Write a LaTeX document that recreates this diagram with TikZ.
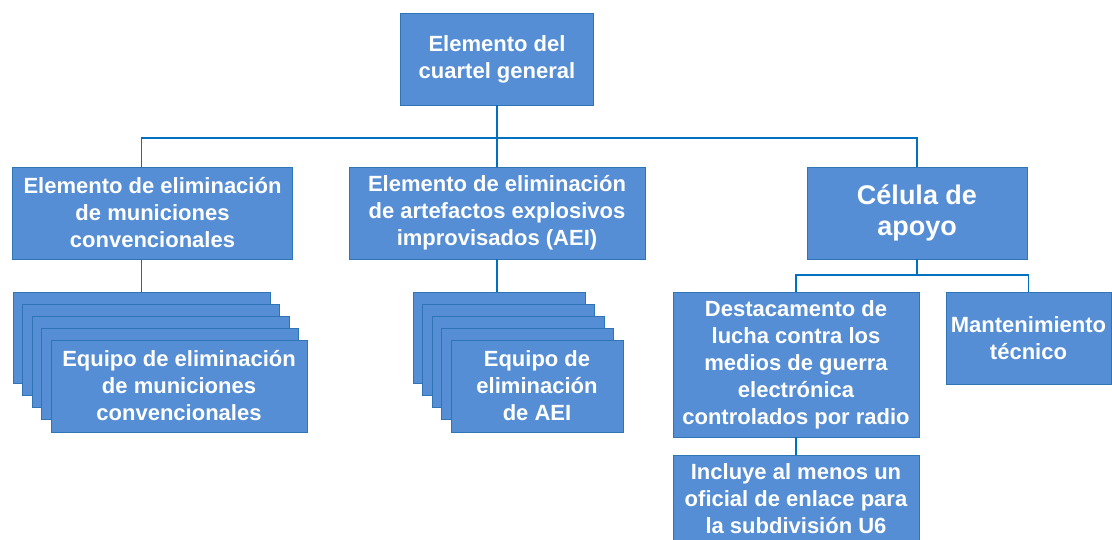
\documentclass[tikz,border=0pt]{standalone}
\usepackage{fontspec}
\setmainfont{Liberation Sans}
\definecolor{unitFill}{RGB}{85,142,213}
\definecolor{unitDraw}{RGB}{46,117,182}
\definecolor{linkColor}{RGB}{0,112,192}
\tikzset{
  unit/.style={draw=unitDraw,fill=unitFill,line width=0.8pt,text=white,
    font=\bfseries\fontsize{22}{27}\selectfont,align=center,inner sep=0pt},
  bigunit/.style={unit,font=\bfseries\fontsize{27}{31}\selectfont},
  link/.style={draw=linkColor,line width=1.3pt}
}
\begin{document}
\begin{tikzpicture}[x=1pt,y=-1pt]
\path[use as bounding box] (0,0) rectangle (1112,540);

% top level
\node[unit,minimum width=193pt,minimum height=92pt] (hq) at (497,59) {Elemento del\\cuartel general};

% second level
\node[unit,minimum width=280pt,minimum height=92pt] (elimconv) at (152.5,213) {Elemento de eliminación\\de municiones\\convencionales};
\node[unit,minimum width=296pt,minimum height=92pt] (elimaei) at (497,213) {Elemento de eliminación\\de artefactos explosivos\\improvisados (AEI)};
\node[bigunit,minimum width=220pt,minimum height=92pt] (celula) at (917,213) {Célula de\\apoyo};

% stacked teams
\foreach \k in {0,...,3}{
  \node[unit,minimum width=257pt,minimum height=91pt] (convteam\k) at (141.5+9.5*\k,337.5+12*\k) {};
  \node[unit,minimum width=172pt,minimum height=91pt] (aeiteam\k) at (499+9.5*\k,337.5+12*\k) {};
}
\node[unit,minimum width=256pt,minimum height=92pt] (convteam) at (179,386) {Equipo de eliminación\\de municiones\\convencionales};
\node[unit,minimum width=172pt,minimum height=92pt] (aeiteam) at (537,386) {Equipo de\\eliminación\\de AEI};

% support cell
\node[unit,minimum width=246pt,minimum height=145pt] (destac) at (796,364.5) {Destacamento de\\lucha contra los\\medios de guerra\\electrónica\\controlados por radio};
\node[unit,minimum width=165pt,minimum height=92pt] (mant) at (1028.5,338) {Mantenimiento\\técnico};
\node[unit,minimum width=246pt,minimum height=88pt] (enlace) at (796,499) {Incluye al menos un\\oficial de enlace para\\la subdivisión U6};

% connectors
\coordinate (bus) at (497,138);
\coordinate (subbus) at (919,275);
\draw[link] (hq.south) -- (elimaei.north);
\draw[link] (convteam0.north |- elimconv.north) |- (bus) -| (celula.north);
\draw[link] (elimconv.south -| convteam0.north) -- (convteam0.north);
\draw[link] (elimaei.south) -- (elimaei.south |- aeiteam0.north);
\draw[link] (celula.south) -- (celula.south |- subbus);
\draw[link] (destac.north) |- (subbus) -| (mant.north);
\draw[link] (destac.south) -- (enlace.north);
\end{tikzpicture}
\end{document}
